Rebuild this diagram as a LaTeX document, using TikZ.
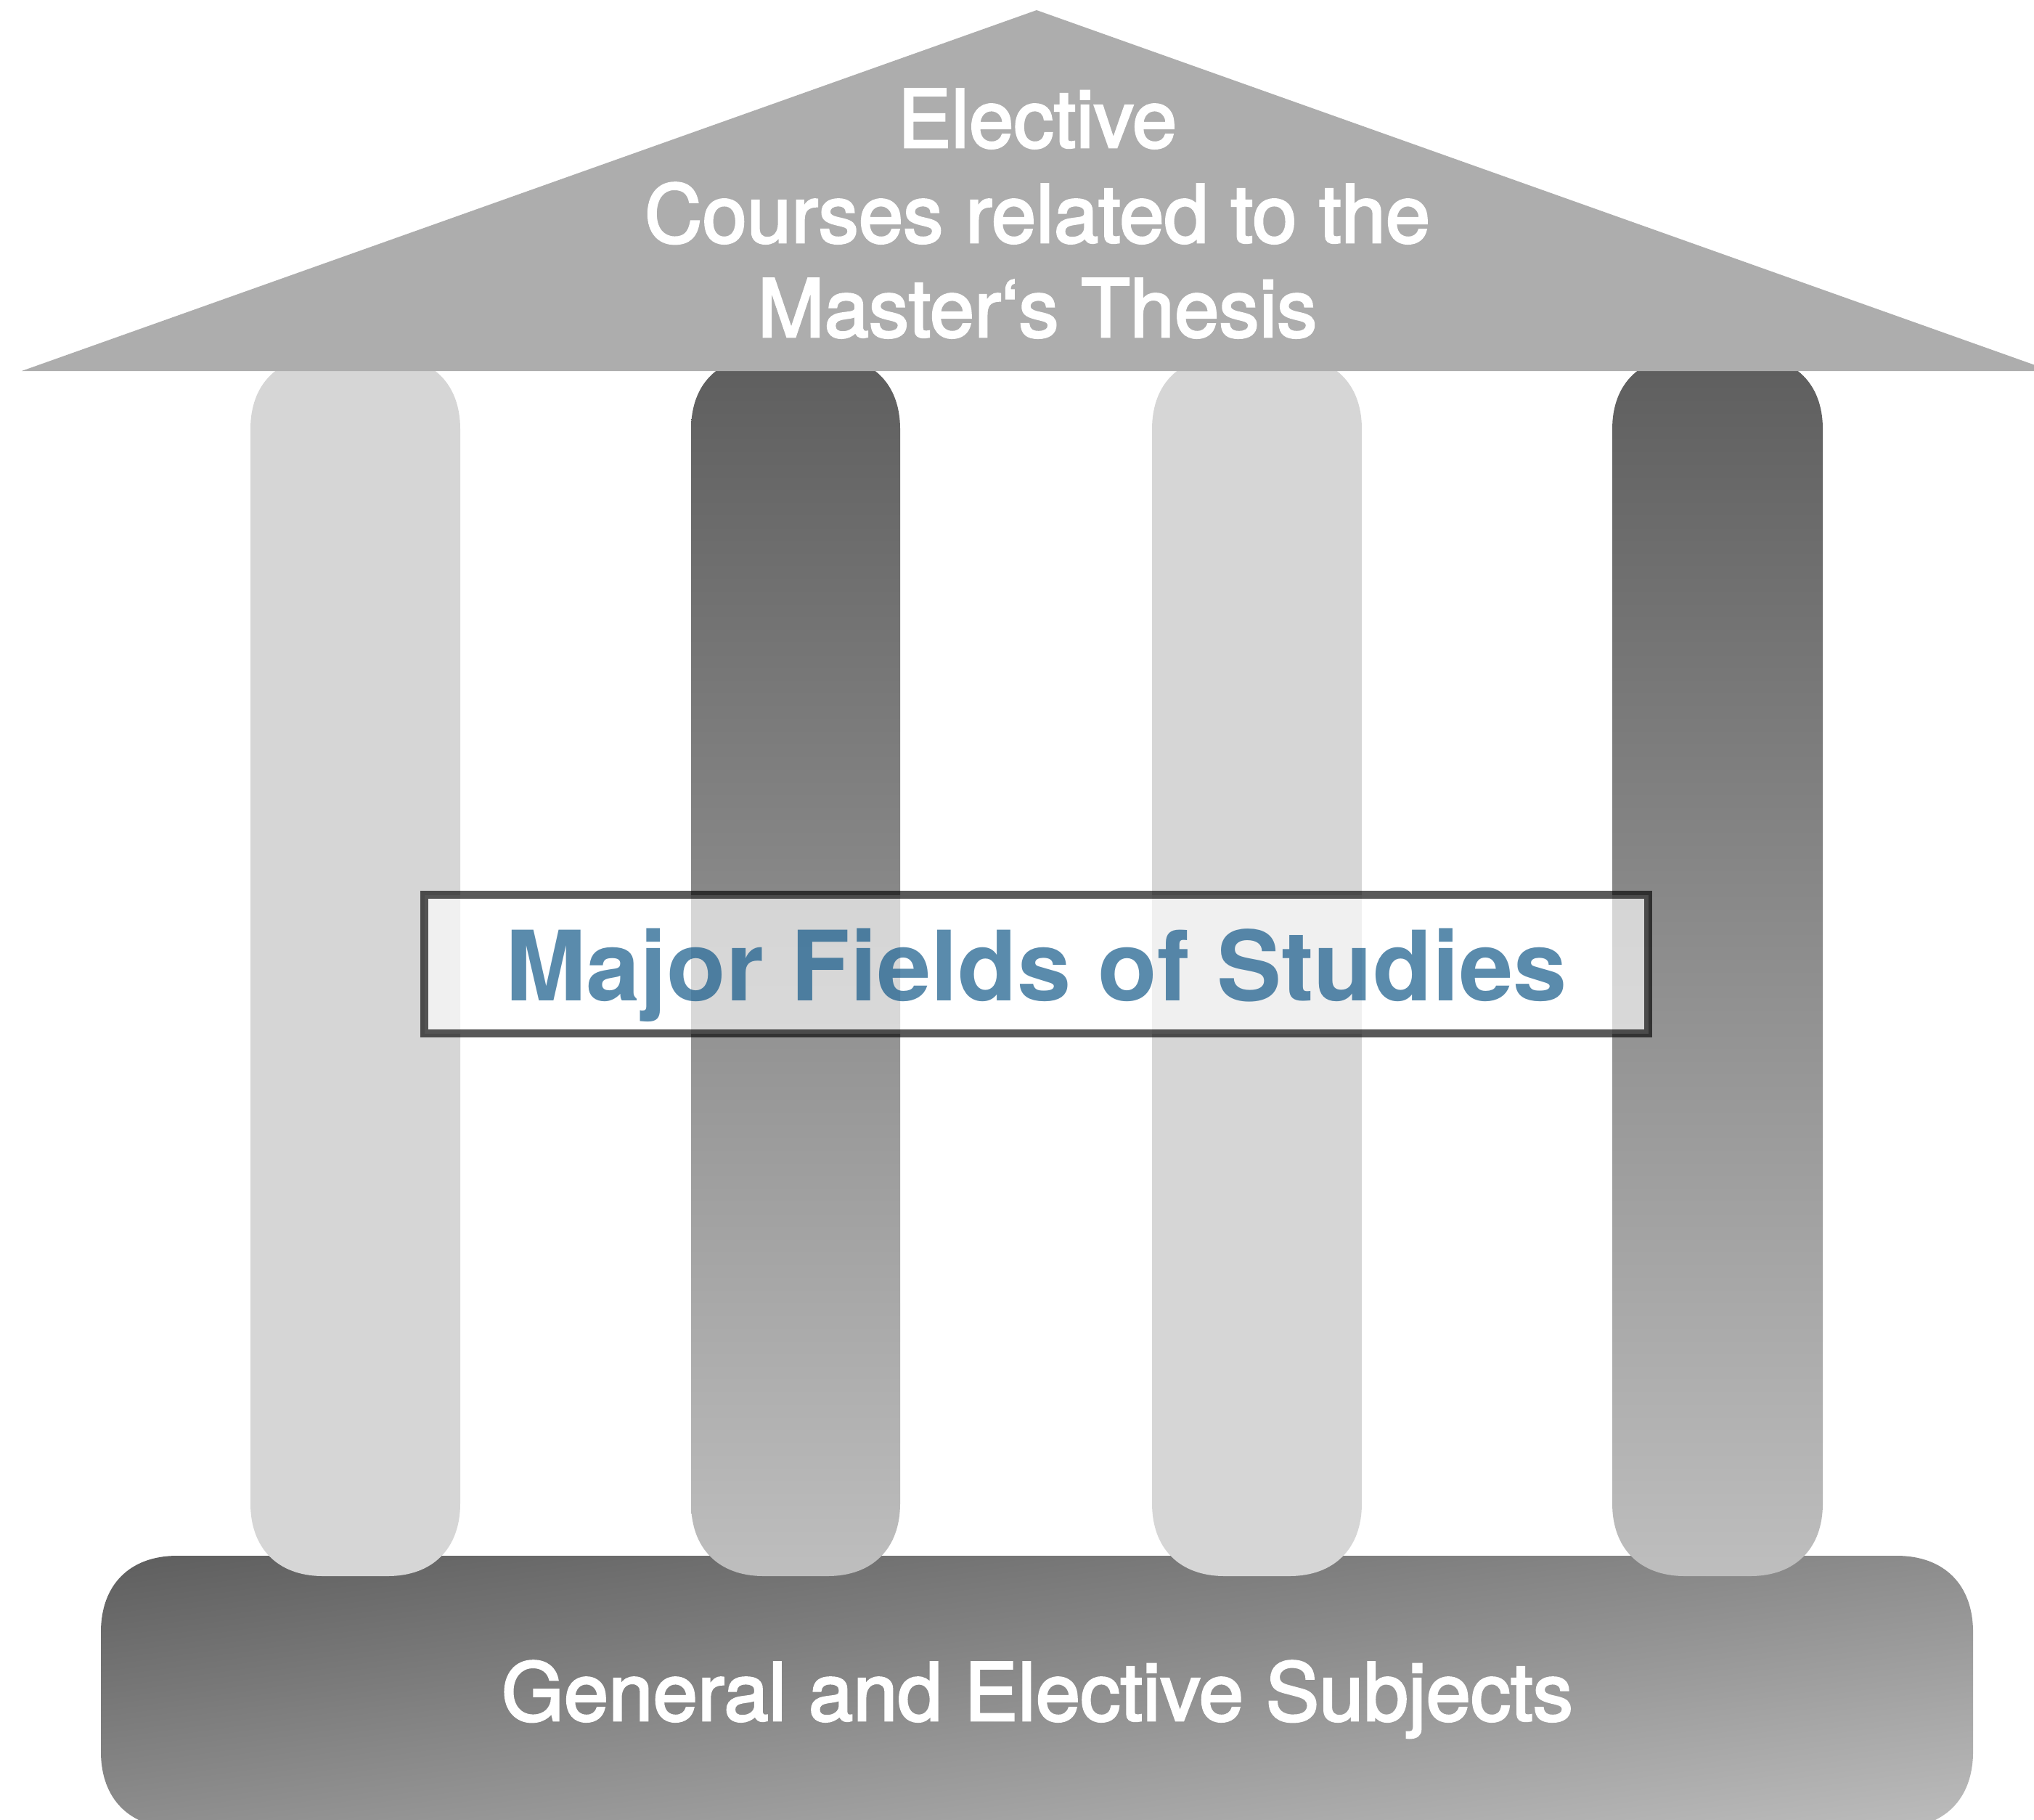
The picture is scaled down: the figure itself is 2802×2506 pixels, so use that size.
\documentclass[tikz,border=0pt]{standalone}
\usepackage{fontspec}
\setmainfont{TeX Gyre Heros}
\newfontfamily\medfont{TeX Gyre Heros}[FakeBold=2.5]
\definecolor{roofgray}{HTML}{ADADAD}
\definecolor{lightpillar}{HTML}{D6D6D6}
\definecolor{darktop}{HTML}{5E5E5E}
\definecolor{darkbottom}{HTML}{BEBEBE}
\definecolor{basebottom}{HTML}{BBBBBB}
\definecolor{titleblue}{RGB}{2,77,129}
\tikzset{
  sqr/.style n args={5}{insert path={({#1+#5},#2) -- ({#3-#5},#2)
     .. controls ({#3-0.38*#5},#2) and (#3,{#2+0.38*#5}) .. (#3,{#2+#5})
     -- (#3,{#4-#5})
     .. controls (#3,{#4-0.38*#5}) and ({#3-0.38*#5},#4) .. ({#3-#5},#4)
     -- ({#1+#5},#4)
     .. controls ({#1+0.38*#5},#4) and (#1,{#4-0.38*#5}) .. (#1,{#4-#5})
     -- (#1,{#2+#5})
     .. controls (#1,{#2+0.38*#5}) and ({#1+0.38*#5},#2) .. ({#1+#5},#2) -- cycle}},
  roofstyle/.style={fill=roofgray},
  baseshade/.style={top color=darktop, bottom color=basebottom},
  lightcol/.style={fill=lightpillar},
  darkcol/.style={top color=darktop, bottom color=darkbottom},
  rooftext/.style={text=white, font=\medfont\fontsize{27.6pt}{33pt}\selectfont, anchor=base, inner sep=0pt},
  boxstyle/.style={draw=black, draw opacity=0.65, fill=white, fill opacity=0.65, text opacity=0.65,
    line width=2.75pt, minimum width=421.5pt, minimum height=47.75pt, inner sep=0pt,
    text height=25pt, text depth=0pt, text=titleblue, font=\fontsize{33.4pt}{40pt}\selectfont\bfseries}
}
\begin{document}
\begin{tikzpicture}[x=0.25pt,y=-0.25pt]
\useasboundingbox (0,0) rectangle (2802,2506);
% base
\begin{scope}
  \clip[sqr={139}{2143}{2718}{2518}{105}];
  \shade[baseshade, transform canvas={rotate around={8:(139,2143)}}] (-900,2143) rectangle (4200,2860);
\end{scope}
% pillars
\fill[lightcol, sqr={345}{491}{634}{2171}{100}];
\shade[darkcol, sqr={952}{491}{1240}{2171}{100}];
\fill[lightcol, sqr={1587}{491}{1876}{2171}{100}];
\shade[darkcol, sqr={2221}{491}{2511}{2171}{100}];
% roof
\fill[roofstyle] (30,511) -- (1428,14) -- (2826,511) -- cycle;
\node[rooftext] (roofa) at (1429,203) {Elective};
\node[rooftext] (roofb) at (1429,334) {Courses related to the};
\node[rooftext] (roofc) at (1429,464) {Master‘s Thesis};
% base text
\node[rooftext] (basetxt) at (1429,2370) {General and Elective Subjects};
% central box
\node[boxstyle] (major) at (1427.5,1328) {Major Fields of Studies};
\end{tikzpicture}
\end{document}
